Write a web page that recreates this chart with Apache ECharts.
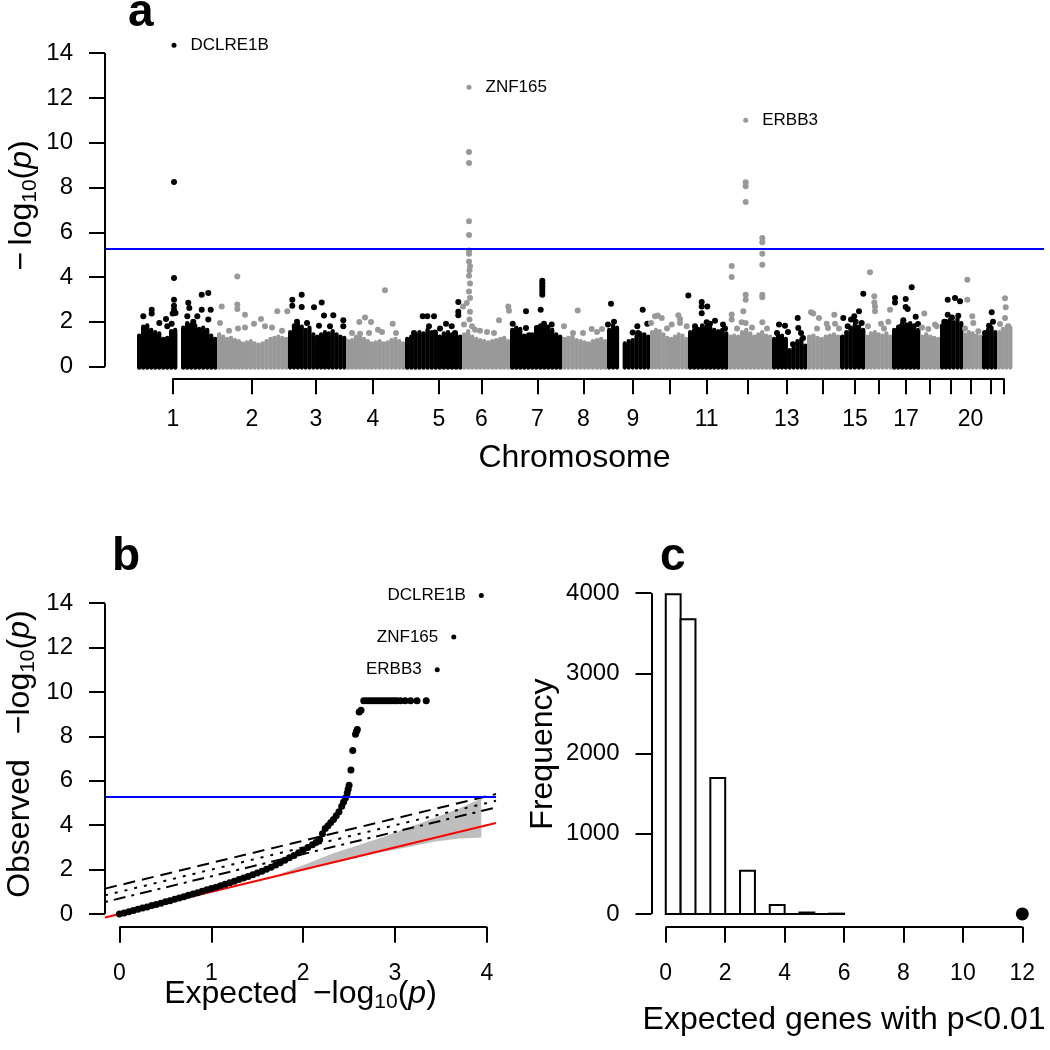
<!DOCTYPE html>
<html>
<head>
<meta charset="utf-8">
<script src="https://cdn.jsdelivr.net/npm/echarts@6/dist/echarts.min.js"></script>
<style>html,body{margin:0;padding:0;background:#fff}#c{width:1050px;height:1050px}</style>
</head>
<body>
<div id="c"></div>
<script>
// ================= DATA =================
// Panel a: Manhattan plot
const chromNames = ['1','2','3','4','5','6','7','8','9','10','11','12','13','14','15','16','17','18','19','20','21','22'];
const chromStart = [0,80,151,209,268,325,373,425,470,513,551,591,635,670,703,728,755,783,803,826,845,860];
const chromEnd   = [80,151,209,268,325,373,425,470,513,551,591,635,670,703,728,755,783,803,826,845,860,875];
const chromTickPos = [36,115,179,236,302,344.5,400.5,446.5,496,532.5,569.7,610.8,649.8,685.5,718,741.5,769,793,814,833.5,854,866.7];
const chromLabelShown = ['1','2','3','4','5','6','7','8','9','11','13','15','17','20'];
const pTicks = [0,2,4,6,8,10,12,14];
const significanceLine = 5.27;

// dense background level of -log10(p) across each chromosome (read from the solid cloud)
const coreLevel = [
  [1.35,1.75,1.8,1.6,1.5,1.45,1.2,1.25,1.55,1.6,null,1.7,1.9,1.85,1.8,1.65,1.7,1.6,1.35,1.2],
  [1.4,1.3,1.2,1.25,1.15,1.1,1.0,1.05,1.1,1.0,0.95,1.0,1.1,1.2,1.25,1.3,1.25,1.2],
  [1.5,1.8,1.85,1.75,1.6,1.7,1.4,1.3,1.4,1.5,1.45,1.55,1.4,1.3,1.25],
  [1.1,1.15,1.3,1.35,1.2,1.1,1.0,1.05,1.1,1.0,1.05,1.15,1.2,1.1,1.0],
  [1.2,1.3,1.4,1.5,1.45,1.6,1.5,1.4,1.3,1.45,1.5,1.4,1.35,1.3],
  [1.4,1.55,1.3,1.2,1.15,1.1,1.05,1.1,1.15,1.2,1.25,1.1],
  [1.6,1.7,1.65,1.35,1.3,1.4,1.7,1.8,1.75,1.7,1.6,1.4,1.3],
  [1.2,1.25,1.3,1.15,1.1,1.05,1.0,1.1,1.15,1.2,1.1],
  [1.6,1.8,1.7,null,1.0,1.1,1.15,1.3,1.45,1.4,1.3],
  [1.5,1.6,1.55,1.4,1.25,1.2,1.3,1.4,1.35,1.2],
  [1.5,1.6,1.65,1.8,1.75,1.7,1.6,1.55,1.6,1.45],
  [1.3,1.35,1.3,1.5,1.6,1.45,1.3,1.4,1.5,1.35,1.3],
  [1.2,1.4,1.35,1.2,0.7,0.8,1.1,1.2,0.9],
  [1.3,1.35,1.25,1.2,1.3,1.35,1.4,1.3],
  [1.3,1.5,1.7,1.8,1.75,1.6],
  [1.3,1.45,1.5,1.4,1.35,1.45,1.3],
  [1.6,1.75,1.9,1.85,1.9,1.8,1.6],
  [1.3,1.4,1.3,1.25,1.2],
  [1.8,2.0,2.05,1.95,2.1,1.9],
  [1.4,1.5,1.45,1.35,1.3],
  [1.3,1.6,1.7,1.5],
  [1.5,1.65,1.75,1.7]
];

// individual genes standing out of the cloud: [chromosome, position, -log10(p)]
const genePoints = [
  [1,37,8.24],[1,37,3.96],[1,37,2.99],[1,37,2.72],[1,37,2.54],[1,35.7,2.37],[1,38.5,2.4],[1,6.3,2.25],[1,14.7,2.54],[1,14.7,2.37],
  [1,22.3,1.95],[1,29,2.13],[1,30.3,1.8],[1,34.7,1.92],[1,51.3,2.85],[1,52.3,2.62],[1,64.7,3.21],[1,71.3,3.29],[1,73.7,2.54],
  [1,64.7,2.54],[1,50.3,2.25],[1,60.3,2.25],[1,56.3,2.0],[1,71.3,2.1],
  [2,100.3,4.03],[2,100.3,2.77],[2,100.3,2.57],[2,108,2.32],[2,84.7,2.69],[2,83,1.95],[2,117,1.92],[2,124,2.13],[2,128,1.8],
  [2,140.3,2.47],[2,150.3,2.47],[2,101,1.7],[2,108,1.75],[2,92,1.6],[2,135,1.75],[2,145,1.6],
  [3,155.3,2.99],[3,164.7,3.21],[3,155.3,2.72],[3,164.7,2.66],[3,177,2.65],[3,184.7,2.87],[3,187,2.28],[3,196.3,2.3],
  [3,182,1.83],[3,206.3,2.07],[3,206.3,1.8],[3,193,1.8],[3,160,2.0],[3,170,1.95],
  [4,248,3.41],[4,222.3,1.99],[4,228,2.19],[4,234,1.99],[4,255.7,1.92],[4,223,1.47],[4,232,1.5],[4,241,1.65],[4,259,1.5],
  [4,215,1.5],[4,245,1.55],
  [5,285.7,2.25],[5,290.3,2.25],[5,297,2.25],[5,292,1.8],[5,298,1.53],[5,309,1.92],[5,314.7,1.8],[5,321.3,2.89],[5,321.3,2.45],
  [5,321.3,2.3],[5,318,1.5],[5,277,1.5],[5,303,1.7],
  [6,332,9.58],[6,332,9.09],[6,332,6.49],[6,332,5.88],[6,332,5.19],[6,332,5.04],[6,332,4.7],[6,333,4.48],[6,332.5,4.3],
  [6,332,4.06],[6,333,3.71],[6,332,3.36],[6,333,3.07],[6,329.7,2.84],[6,326,2.69],[6,333,2.45],[6,332.5,2.1],[6,327,1.88],
  [6,371.3,2.69],[6,372,2.5],[6,362,2.07],[6,343,1.6],[6,350,1.55],[6,357,1.5],[6,335,1.8],[6,338,1.65],
  [7,405.3,3.84],[7,405.3,3.71],[7,405.3,3.59],[7,405.3,3.47],[7,405.3,3.35],[7,405.3,3.21],[7,389,2.47],[7,403.7,2.54],
  [7,375.7,1.92],[7,389,1.73],[7,392,1.4],[7,400,1.73],[7,407,1.92],[7,414.7,1.88],[7,380,1.6],[7,410,1.75],
  [8,440.7,2.51],[8,454.7,1.68],[8,465,1.68],[8,427,1.8],[8,436,1.5],[8,446,1.5],[8,460,1.55],
  [9,474,2.81],[9,471,1.88],[9,505.7,2.54],[9,500.3,1.8],[9,495.7,1.53],[9,510.3,1.92],[9,501,1.5],[9,477,2.0],
  [10,518,2.25],[10,520.7,2.28],[10,524.7,2.17],[10,514,1.95],[10,541.3,2.29],[10,543,2.13],[10,534.7,1.88],[10,543,1.95],
  [10,549.7,1.8],[10,530,1.7],
  [11,551.3,3.18],[11,564.7,2.89],[11,564.7,2.69],[11,570.3,2.69],[11,564.7,2.39],[11,569.7,1.98],[11,573,1.92],[11,586,1.88],
  [11,588,1.7],[11,558,1.8],[11,578,2.05],
  [12,608.7,8.23],[12,608.7,8.05],[12,608.7,7.35],[12,608.7,3.21],[12,608.7,2.99],[12,606.3,2.47],[12,608.7,1.95],
  [12,625.3,5.74],[12,625.3,5.55],[12,625.3,5.04],[12,625.3,4.55],[12,625.3,3.21],[12,625.3,3.1],[12,625.3,1.98],
  [12,594.7,4.49],[12,594.7,4.0],[12,594.7,2.33],[12,594.7,2.1],[12,604.7,1.98],[12,600,1.7],[12,615,1.75],[12,630,1.7],
  [13,642,1.88],[13,648,1.83],[13,640,1.5],[13,660.7,2.17],[13,661.3,1.73],[13,664,1.5],[13,666,1.28],[13,656,1.0],[13,651,1.55],
  [14,674,2.43],[14,676.3,2.37],[14,682,2.17],[14,689.7,1.92],[14,697.3,2.32],[14,698,1.92],[14,691,1.73],[14,680,1.7],[14,702,1.7],
  [15,726.3,3.26],[15,722,2.47],[15,717.3,2.25],[15,706.3,2.17],[15,710.7,1.8],[15,718.7,2.0],[15,724.7,1.95],[15,714,2.1],
  [16,733,4.21],[16,737.3,3.14],[16,737.3,2.87],[16,738,2.69],[16,738,2.47],[16,753,2.54],[16,751.3,2.0],[16,744,1.92],
  [16,731,1.8],[16,747,1.7],
  [17,774.7,3.54],[17,758,3.07],[17,758,2.87],[17,768.7,3.02],[17,768.7,2.66],[17,770.7,2.57],[17,778.7,2.23],[17,766.3,2.07],
  [17,764.7,1.8],[17,781,1.9],
  [18,787.3,2.37],[18,798,1.88],[18,791.3,1.68],[18,799.7,1.8],[18,785,1.75],
  [19,810.7,2.99],[19,818,3.07],[19,823,2.92],[19,810.7,2.32],[19,821.3,2.27],[19,807.3,2.0],[19,815,2.2],
  [20,830.3,3.88],[20,830.3,2.99],[20,835.3,2.25],[20,836.3,1.95],[20,841.3,1.58],[20,828,1.7],
  [21,854.7,2.43],[21,852,1.83],[21,848,1.5],[21,856,2.0],
  [22,868,3.05],[22,868.7,2.65],[22,868,2.17],[22,871.3,1.8],[22,863,1.9]
];

// top genes
const topGenes = ['DCLRE1B','ZNF165','ERBB3'];
const topGeneChrom = [1,6,12];
const topGenePos = [37,332,608.7];
const topGeneP = [14.35,12.48,11.0];
const topGeneExpected = [3.94,3.64,3.46];

// Panel b: QQ plot
const qqExpected = [0.00,0.05,0.10,0.15,0.20,0.25,0.30,0.35,0.40,0.45,0.50,0.55,0.60,0.65,0.70,0.75,0.80,0.85,0.90,0.95,
  1.00,1.05,1.10,1.15,1.20,1.25,1.30,1.35,1.40,1.45,1.50,1.55,1.60,1.65,1.70,1.75,1.80,1.85,1.90,1.95,
  2.00,2.05,2.10,2.14,2.18,2.21,2.24,2.27,2.30,2.33,2.36,2.39,2.42,2.44,2.46,
  2.48,2.49,2.50,2.52,2.54,2.57,2.58,2.59,2.61,2.63,
  2.66,2.69,2.72,2.75,2.78,2.81,2.84,2.87,2.90,2.93,2.96,2.99,3.02,3.06,3.11,3.17,3.24,3.34];
const qqObserved = [0.00,0.05,0.10,0.16,0.21,0.27,0.32,0.38,0.43,0.49,0.55,0.60,0.66,0.72,0.78,0.84,0.90,0.96,1.02,1.09,
  1.15,1.21,1.27,1.34,1.41,1.48,1.55,1.62,1.69,1.77,1.85,1.93,2.02,2.11,2.21,2.31,2.42,2.53,2.64,2.76,
  2.88,3.00,3.12,3.22,3.35,3.62,3.85,3.98,4.12,4.26,4.42,4.60,4.85,5.05,5.22,
  5.45,5.62,5.80,6.49,7.36,8.10,8.22,8.31,9.10,9.18,
  9.61,9.61,9.61,9.61,9.61,9.61,9.61,9.61,9.61,9.61,9.61,9.61,9.61,9.61,9.61,9.61,9.61,9.61];
const qqXTicks = [0,1,2,3,4];
const bandX = [1.7,2.0,2.32,2.6,2.88,3.15,3.42,3.7,3.94];
const bandUpper = [1.72,2.2,2.73,3.1,3.48,3.9,4.31,4.75,5.2];
const bandLower = [1.7,1.98,2.28,2.55,2.8,3.02,3.25,3.4,3.45];
const refIntercepts = [0, 1.301, 1.0, 0.699];

// Panel c: histogram
const histBinStart = [0,0.5,1,1.5,2,2.5,3,3.5,4,4.5,5,5.5];
const histBinWidth = 0.5;
const histCounts = [3988,3676,0,1696,0,540,0,112,0,18,0,4];
const observedGenes = 12;
const freqTicks = [0,1000,2000,3000,4000];
const expGeneTicks = [0,2,4,6,8,10,12];

// ================= CHART =================
const FONT = "'Liberation Sans', Arial, sans-serif";
const NARROW = "'Liberation Sans Narrow', 'Liberation Sans', Arial, sans-serif";
const BLACK = '#000000', GREY = '#999999';

const AX = {
  a: {xmin: -32, xmax: 907, ymin: -0.52, ymax: 14.92},
  b: {xmin: -0.158, xmax: 4.10, ymin: -0.576, ymax: 14.98},
  c: {xmin: -0.48, xmax: 12.48, ymin: -160, ymax: 4148}
};

const coreData = [];
coreLevel.forEach((levels, ci) => {
  const w = (chromEnd[ci] - chromStart[ci]) / levels.length;
  levels.forEach((h, j) => {
    if (h == null) return;
    coreData.push([chromStart[ci] + (j + 0.5) * w, h, w / 2, ci % 2]);
  });
});
const oddPts = genePoints.filter(p => p[0] % 2 === 1).map(p => [p[1], p[2]]);
const evenPts = genePoints.filter(p => p[0] % 2 === 0).map(p => [p[1], p[2]]);
const labelTickPos = chromTickPos.filter((p, i) => chromLabelShown.includes(chromNames[i]));
const qqData = qqExpected.map((x, i) => [x, qqObserved[i]]);

const richName = {
  t: {fontSize: 32, fontFamily: FONT, color: BLACK, lineHeight: 38},
  s: {fontSize: 21, fontFamily: FONT, color: BLACK, lineHeight: 21, verticalAlign: 'bottom'},
  i: {fontSize: 32, fontFamily: FONT, fontStyle: 'italic', color: BLACK, lineHeight: 38}
};
const plainName = {fontSize: 32, fontFamily: FONT, color: BLACK};

function xAx(grid, r, tickVals, labelCfg, extra) {
  return Object.assign({
    gridIndex: grid, type: 'value', min: r.xmin, max: r.xmax,
    splitLine: {show: false}, axisLine: {show: false, onZero: false},
    axisTick: {show: true, customValues: tickVals, length: 16, lineStyle: {color: BLACK, width: 2}},
    axisLabel: labelCfg,
    nameLocation: 'middle', nameMoveOverlap: false
  }, extra);
}
function yAx(grid, r, tickVals, extra) {
  return Object.assign({
    gridIndex: grid, type: 'value', min: r.ymin, max: r.ymax,
    splitLine: {show: false}, axisLine: {show: false, onZero: false},
    axisTick: {show: true, customValues: tickVals, length: 16, lineStyle: {color: BLACK, width: 2}},
    axisLabel: {show: true, customValues: tickVals, margin: 32, fontSize: 24, fontFamily: FONT, color: BLACK, formatter: v => String(v)},
    nameLocation: 'middle', nameRotate: 90, nameMoveOverlap: false
  }, extra);
}
function frame(idx, r, xFrom, xTo, yFrom, yTo) {
  return {
    type: 'line', xAxisIndex: idx, yAxisIndex: idx, data: [], clip: false, silent: true, z: 5,
    markLine: {
      silent: true, symbol: 'none', animation: false, label: {show: false},
      lineStyle: {color: BLACK, width: 2, type: 'solid'}, emphasis: {disabled: true},
      data: [
        [{coord: [xFrom, r.ymin]}, {coord: [xTo, r.ymin]}],
        [{coord: [r.xmin, yFrom]}, {coord: [r.xmin, yTo]}]
      ]
    }
  };
}
function hline(idx, y) {
  return {
    type: 'line', xAxisIndex: idx, yAxisIndex: idx, data: [], silent: true, z: 4,
    markLine: {
      silent: true, symbol: 'none', animation: false, label: {show: false},
      lineStyle: {color: '#0000FF', width: 2, type: 'solid'}, emphasis: {disabled: true},
      data: [{yAxis: y}]
    }
  };
}

const refStyles = [
  {color: '#FF0000', width: 2, type: 'solid'},
  {color: BLACK, width: 2, type: [12, 7]},
  {color: BLACK, width: 2, type: [3, 7]},
  {color: BLACK, width: 2, type: [3, 6, 12, 6]}
];

const letterFont = "bold 46px 'Liberation Sans', Arial, sans-serif";
const letters = [
  {type: 'text', x: 128, y: 13, style: {text: 'a', font: letterFont, fill: BLACK, verticalAlign: 'middle'}},
  {type: 'text', x: 112, y: 557, style: {text: 'b', font: letterFont, fill: BLACK, verticalAlign: 'middle'}},
  {type: 'text', x: 660, y: 557, style: {text: 'c', font: letterFont, fill: BLACK, verticalAlign: 'middle'}}
];

const option = {
  animation: false,
  backgroundColor: '#ffffff',
  grid: [
    {left: 105, top: 32.5, width: 939, height: 345.8, outerBoundsMode: 'none', containLabel: false},
    {left: 105, top: 581.4, width: 391, height: 345.4, outerBoundsMode: 'none', containLabel: false},
    {left: 651.5, top: 581.3, width: 385.1, height: 345.5, outerBoundsMode: 'none', containLabel: false}
  ],
  xAxis: [
    xAx(0, AX.a, chromTickPos,
      {show: true, customValues: labelTickPos, margin: 30, fontSize: 23, fontFamily: NARROW, color: BLACK,
        formatter: v => { let b = 0; chromTickPos.forEach((p, i) => { if (Math.abs(p - v) < Math.abs(chromTickPos[b] - v)) b = i; }); return chromNames[b]; }},
      {name: 'Chromosome', nameGap: 64, nameTextStyle: plainName}),
    xAx(1, AX.b, qqXTicks, {show: false},
      {name: '{t|Expected \u2009\u2212log}{s|10}{t|(}{i|p}{t|)}', nameGap: 48, nameTextStyle: {rich: richName}}),
    xAx(2, AX.c, expGeneTicks, {show: false},
      {name: 'Expected genes with p<0.01', nameGap: 77, nameTextStyle: plainName})
  ],
  yAxis: [
    yAx(0, AX.a, pTicks, {name: '{t|\u2212\u2009log}{s|10}{t|(}{i|p}{t|)}', nameGap: 64, nameTextStyle: {rich: richName}}),
    yAx(1, AX.b, pTicks, {name: '{t|Observed \u2002\u2212log}{s|10}{t|(}{i|p}{t|)}', nameGap: 66, nameTextStyle: {rich: richName}}),
    yAx(2, AX.c, freqTicks, {name: 'Frequency', nameGap: 92, nameTextStyle: plainName})
  ],
  series: [
    // ---- panel a ----
    {
      type: 'custom', xAxisIndex: 0, yAxisIndex: 0, data: coreData, encode: {x: 0, y: 1}, silent: true, z: 2,
      renderItem: (params, api) => {
        const x = api.value(0), h = api.value(1), hw = api.value(2), even = api.value(3);
        const p0 = api.coord([x - hw, h]);
        const p1 = api.coord([x + hw, 0]);
        const rr = 3;
        return {type: 'rect', shape: {x: p0[0], y: p0[1] - rr, width: p1[0] - p0[0] + 0.4, height: p1[1] - p0[1] + 2 * rr, r: rr},
          style: {fill: even ? GREY : BLACK}};
      }
    },
    {type: 'scatter', xAxisIndex: 0, yAxisIndex: 0, data: oddPts, symbolSize: 6, itemStyle: {color: BLACK, opacity: 1}, silent: true, z: 3},
    {type: 'scatter', xAxisIndex: 0, yAxisIndex: 0, data: evenPts, symbolSize: 6, itemStyle: {color: GREY, opacity: 1}, silent: true, z: 3},
    {
      type: 'scatter', xAxisIndex: 0, yAxisIndex: 0, silent: true, z: 3, symbolSize: 5,
      data: topGenes.map((g, i) => ({name: g, value: [topGenePos[i], topGeneP[i]], itemStyle: {color: topGeneChrom[i] % 2 ? BLACK : GREY, opacity: 1}})),
      label: {show: true, position: 'right', distance: 14, formatter: '{b}', fontSize: 17, fontFamily: FONT, color: BLACK}
    },
    hline(0, significanceLine),
    frame(0, AX.a, chromTickPos[0], chromTickPos[chromTickPos.length - 1], 0, 14),
    // ---- panel b ----
    {
      type: 'custom', xAxisIndex: 1, yAxisIndex: 1, data: [[bandX[0], bandLower[0]]], encode: {x: 0, y: 1}, silent: true, z: 1,
      renderItem: (params, api) => {
        const pts = [];
        bandX.forEach((x, i) => pts.push(api.coord([x, bandUpper[i]])));
        for (let i = bandX.length - 1; i >= 0; i--) pts.push(api.coord([bandX[i], bandLower[i]]));
        return {type: 'polygon', shape: {points: pts}, style: {fill: '#BEBEBE'}};
      }
    },
    ...refIntercepts.map((c, i) => ({
      type: 'line', xAxisIndex: 1, yAxisIndex: 1, silent: true, z: 2, showSymbol: false, symbol: 'none',
      data: [[AX.b.xmin, AX.b.xmin + c], [AX.b.xmax, AX.b.xmax + c]],
      lineStyle: refStyles[i]
    })),
    hline(1, significanceLine),
    {type: 'scatter', xAxisIndex: 1, yAxisIndex: 1, data: qqData, symbolSize: 7, itemStyle: {color: BLACK, opacity: 1}, silent: true, z: 4},
    {
      type: 'scatter', xAxisIndex: 1, yAxisIndex: 1, silent: true, z: 4, symbolSize: 5,
      data: topGenes.map((g, i) => ({name: g, value: [topGeneExpected[i], topGeneP[i]]})),
      itemStyle: {color: BLACK, opacity: 1},
      label: {show: true, position: 'left', distance: 13, formatter: '{b}', fontSize: 17, fontFamily: FONT, color: BLACK}
    },
    frame(1, AX.b, 0, 4, 0, 14),
    // ---- panel c ----
    {
      type: 'custom', xAxisIndex: 2, yAxisIndex: 2, data: histCounts.map((c, i) => [histBinStart[i], c]), encode: {x: 0, y: 1}, silent: true, z: 2,
      renderItem: (params, api) => {
        const x0 = api.value(0), cnt = api.value(1);
        const a = api.coord([x0, cnt]);
        const b = api.coord([x0 + histBinWidth, 0]);
        return {type: 'rect', shape: {x: a[0], y: a[1], width: b[0] - a[0], height: b[1] - a[1]},
          style: {fill: '#ffffff', stroke: BLACK, lineWidth: 2}};
      }
    },
    {type: 'scatter', xAxisIndex: 2, yAxisIndex: 2, data: [[observedGenes, 0]], symbolSize: 13, itemStyle: {color: BLACK, opacity: 1}, silent: true, z: 3},
    frame(2, AX.c, 0, 12, 0, 4000)
  ],
  graphic: letters
};

const chart = echarts.init(document.getElementById('c'), null, {renderer: 'canvas', width: 1050, height: 1050});
chart.setOption(option);

// x tick labels of panels b and c, positioned through the axis scales
const tickText = [];
[[1, AX.b, qqXTicks], [2, AX.c, expGeneTicks]].forEach(([idx, r, vals]) => {
  vals.forEach(v => {
    const pt = chart.convertToPixel({xAxisIndex: idx, yAxisIndex: idx}, [v, r.ymin]);
    tickText.push({type: 'text', x: pt[0], y: pt[1] + 47, z: 10,
      style: {text: String(v), font: "23px 'Liberation Sans Narrow', 'Liberation Sans', Arial, sans-serif", fill: BLACK, align: 'center', verticalAlign: 'middle'}});
  });
});
chart.setOption({graphic: letters.concat(tickText)});
</script>
</body>
</html>
